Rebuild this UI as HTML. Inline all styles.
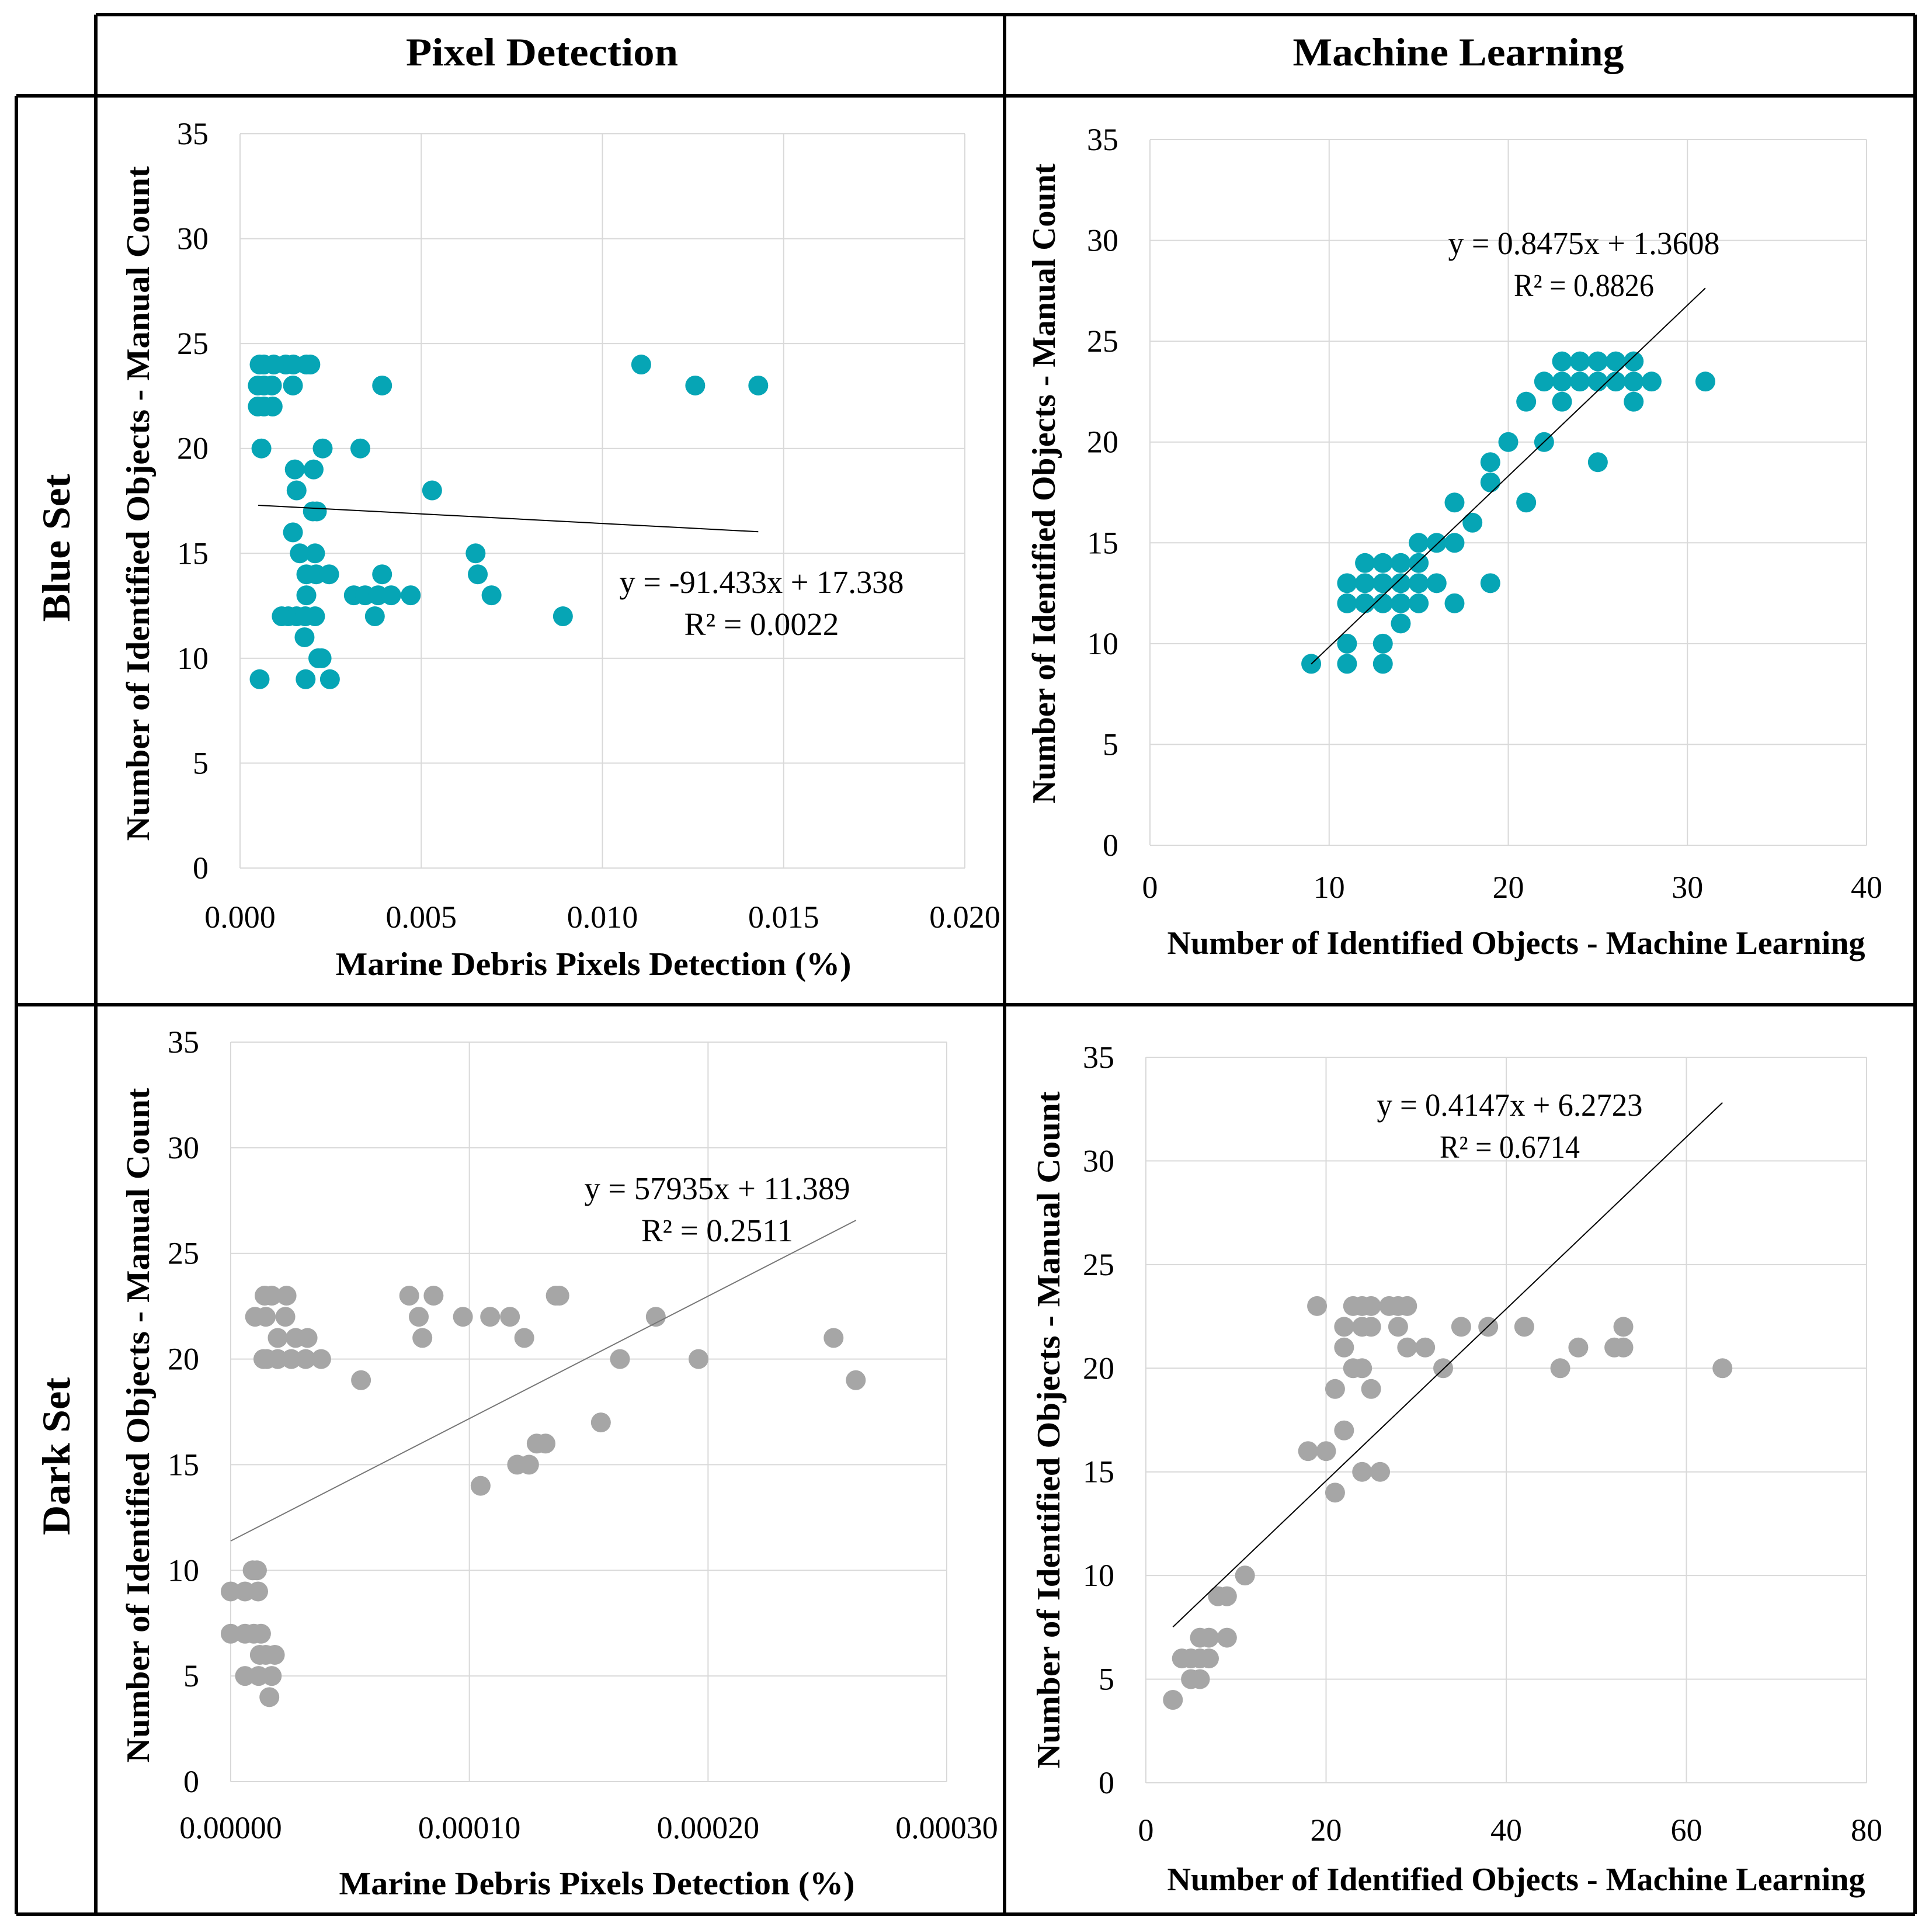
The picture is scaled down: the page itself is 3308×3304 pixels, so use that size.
<!DOCTYPE html>
<html><head><meta charset="utf-8"><style>
html,body{margin:0;padding:0;background:#fff;}
svg{display:block;}
text{font-family:"Liberation Serif",serif;fill:#000;}
.tick{font-size:54px;}
.title{font-size:56px;font-weight:bold;}
.eq{font-size:55px;}
.hdr{font-size:68px;font-weight:bold;}
</style></head><body>
<svg id="chart" width="3308" height="3304" viewBox="0 0 3308 3304" xmlns="http://www.w3.org/2000/svg">
<g stroke="#000" stroke-width="6" fill="none">
<line x1="164" y1="25" x2="3279" y2="25"/>
<line x1="28" y1="164" x2="3279" y2="164"/>
<line x1="28" y1="1720" x2="3279" y2="1720"/>
<line x1="28" y1="3277" x2="3279" y2="3277"/>
<line x1="28" y1="164" x2="28" y2="3277"/>
<line x1="164" y1="25" x2="164" y2="3277"/>
<line x1="1720" y1="25" x2="1720" y2="3277"/>
<line x1="3279" y1="25" x2="3279" y2="3277"/>
</g>
<text class="hdr" x="928" y="112" text-anchor="middle" textLength="466" lengthAdjust="spacingAndGlyphs">Pixel Detection</text>
<text class="hdr" x="2497" y="112" text-anchor="middle" textLength="567" lengthAdjust="spacingAndGlyphs">Machine Learning</text>
<text class="hdr" transform="translate(119,938) rotate(-90)" text-anchor="middle" textLength="253" lengthAdjust="spacingAndGlyphs">Blue Set</text>
<text class="hdr" transform="translate(119,2493) rotate(-90)" text-anchor="middle" textLength="270" lengthAdjust="spacingAndGlyphs">Dark Set</text>
</svg>
<script>
// Panel 1: Blue set, pixel detection
const p1X = [0.00054,0.00066,0.00093,0.00126,0.00147,0.00183,0.00194,0.01107,
 0.00049,0.00066,0.00088,0.00146,0.00392,0.01256,0.01430,
 0.00049,0.00066,0.00090,
 0.00059,0.00228,0.00332,
 0.00151,0.00203,
 0.00156,0.00530,
 0.00201,0.00212,
 0.00146,
 0.00165,0.00207,0.00650,
 0.00183,0.00210,0.00246,0.00392,0.00656,
 0.00183,0.00314,0.00345,0.00381,0.00417,0.00471,0.00694,
 0.00115,0.00133,0.00156,0.00180,0.00207,0.00372,0.00891,
 0.00178,
 0.00216,0.00225,
 0.00054,0.00181,0.00248];
const p1Y = [24,24,24,24,24,24,24,24,
 23,23,23,23,23,23,23,
 22,22,22,
 20,20,20,
 19,19,
 18,18,
 17,17,
 16,
 15,15,15,
 14,14,14,14,14,
 13,13,13,13,13,13,13,
 12,12,12,12,12,12,12,
 11,
 10,10,
 9,9,9];
// Panel 2: Blue set, machine learning
const p2X = [23,24,25,26,27, 22,23,24,25,26,27,28,31, 21,23,27, 20,22, 19,25, 19, 17,21, 18, 15,16,17,
 12,13,14,15, 11,12,13,14,15,16,19, 11,12,13,14,15,17, 14, 11,13, 9,11,13];
const p2Y = [24,24,24,24,24, 23,23,23,23,23,23,23,23, 22,22,22, 20,20, 19,19, 18, 17,17, 16, 15,15,15,
 14,14,14,14, 13,13,13,13,13,13,13, 12,12,12,12,12,12, 11, 10,10, 9,9,9];
// Panel 3: Dark set, pixel detection
const p3X = [1.42e-5,1.72e-5,2.34e-5,7.48e-5,8.5e-5,1.362e-4,1.377e-4,
 1.02e-5,1.47e-5,2.29e-5,7.88e-5,9.73e-5,1.087e-4,1.17e-4,1.781e-4,
 1.97e-5,2.72e-5,3.22e-5,8.03e-5,1.23e-4,2.526e-4,
 1.37e-5,1.52e-5,1.97e-5,2.54e-5,3.14e-5,3.79e-5,1.631e-4,1.96e-4,
 5.46e-5,2.619e-4, 1.551e-4, 1.282e-4,1.319e-4, 1.2e-4,1.25e-4, 1.047e-4,
 9.2e-6,1.1e-5, 0,6e-6,1.15e-5, 0,6e-6,9.7e-6,1.27e-5,
 1.22e-5,1.47e-5,1.85e-5, 6e-6,1.17e-5,1.72e-5, 1.62e-5];
const p3Y = [23,23,23,23,23,23,23,
 22,22,22,22,22,22,22,22,
 21,21,21,21,21,21,
 20,20,20,20,20,20,20,20,
 19,19, 17, 16,16, 15,15, 14,
 10,10, 9,9,9, 7,7,7,7,
 6,6,6, 5,5,5, 4];
// Panel 4: Dark set, machine learning
const p4X = [19,23,24,25,27,28,29, 22,24,25,28,35,38,42,53, 22,29,31,48,52,53, 23,24,33,46,64,
 21,25, 22, 18,20, 24,26, 21, 11, 8,9, 6,7,9, 4,5,6,7, 5,6, 3];
const p4Y = [23,23,23,23,23,23,23, 22,22,22,22,22,22,22,22, 21,21,21,21,21,21, 20,20,20,20,20,
 19,19, 17, 16,16, 15,15, 14, 10, 9,9, 7,7,7, 6,6,6,6, 5,5, 4];
const yTicks = [0,5,10,15,20,25,30,35];
const x1Ticks = ["0.000","0.005","0.010","0.015","0.020"];
const x2Ticks = ["0","10","20","30","40"];
const x3Ticks = ["0.00000","0.00010","0.00020","0.00030"];
const x4Ticks = ["0","20","40","60","80"];
const trend1 = [0.0005, 0.0143];
const trend2 = [9, 31];
const trend3 = [0, 0.000262];
const trend4 = [3, 64];
const coef1 = [-91.433, 17.338];
const coef2 = [0.8475, 1.3608];
const coef3 = [57935, 11.389];
const coef4 = [0.4147, 6.2723];

const NS = "http://www.w3.org/2000/svg";
const svg = document.getElementById('chart');
function mk(tag, attrs, parent){ const e=document.createElementNS(NS,tag); for(const k in attrs) e.setAttribute(k,attrs[k]); (parent||svg).appendChild(e); return e; }

function panel(o){
  const g = mk('g',{});
  
  
  const xmax = parseFloat(o.xt[o.xt.length-1]);
  const sx = v => o.L + (v/xmax)*(o.R-o.L);
  const sy = v => o.B - (v/35)*(o.B-o.T);
  yTicks.forEach(t=>{
    const l = mk('line',{x1:o.L,x2:o.R,y1:sy(t),y2:sy(t),stroke:'#d9d9d9','stroke-width':2},g);
    
    
    const tx = mk('text',{x:o.L-54,y:sy(t)+18,'text-anchor':'end',class:'tick'},g);
    tx.textContent = t;
    
    
  });
  o.xt.forEach(t=>{
    const v=parseFloat(t);
    const l = mk('line',{x1:sx(v),x2:sx(v),y1:o.T,y2:o.B,stroke:'#d9d9d9','stroke-width':2},g);
    
    
    const tx = mk('text',{x:sx(v),y:o.B+o.xoff+18,'text-anchor':'middle',class:'tick'},g);
    tx.textContent = t;
    
    
  });
  o.xs.forEach((xv,i)=>{
    const c = mk('circle',{cx:sx(xv),cy:sy(o.ys[i]),r:17,fill:o.color},g);
    
    
  });
  const tl = mk('line',{x1:sx(o.tr[0]),y1:sy(o.cf[0]*o.tr[0]+o.cf[1]),x2:sx(o.tr[1]),y2:sy(o.cf[0]*o.tr[1]+o.cf[1]),stroke:o.tc,'stroke-width':2},g);
  
  
  const e1 = mk('text',{x:o.ex,y:o.ey+18,'text-anchor':'middle',class:'eq',textLength:o.el1,lengthAdjust:'spacingAndGlyphs'},g);
  e1.textContent = o.eq1;
  
  
  const e2 = mk('text',{x:o.ex,y:o.ey+90,'text-anchor':'middle',class:'eq',textLength:o.el2,lengthAdjust:'spacingAndGlyphs'},g);
  e2.textContent = o.eq2;
  
  
  const xt = mk('text',{x:o.xtx,y:o.xty+19,'text-anchor':'middle',class:'title',textLength:o.xtl,lengthAdjust:'spacingAndGlyphs'},g);
  xt.textContent = o.xtitle;
  
  
  const yt = mk('text',{transform:`translate(${o.ytx+19},${o.yty}) rotate(-90)`,'text-anchor':'middle',class:'title',textLength:o.ytl,lengthAdjust:'spacingAndGlyphs'},g);
  yt.textContent = 'Number of Identified Objects - Manual Count';
  
  
}
const teal='#06a5b5', gray='#a6a6a6';
panel({name:'blue-pixel-chart',L:411,R:1652,T:229,B:1486,xt:x1Ticks,xoff:84,xs:p1X,ys:p1Y,color:teal,tr:trend1,cf:coef1,tc:'#000',
  ex:1304,ey:997,el1:487,el2:265,eq1:'y = -91.433x + 17.338',eq2:'R² = 0.0022',xtx:1016,xty:1650,xtl:883,xtitle:'Marine Debris Pixels Detection (%)',ytx:236,yty:862,ytl:1155});
panel({name:'blue-ml-chart',L:1969,R:3196,T:239,B:1447,xt:x2Ticks,xoff:72,xs:p2X,ys:p2Y,color:teal,tr:trend2,cf:coef2,tc:'#000',
  ex:2712,ey:417,el1:465,el2:240,eq1:'y = 0.8475x + 1.3608',eq2:'R² = 0.8826',xtx:2596,xty:1614,xtl:1195,xtitle:'Number of Identified Objects  - Machine Learning',ytx:1787,yty:828,ytl:1096});
panel({name:'dark-pixel-chart',L:395,R:1621,T:1784,B:3050,xt:x3Ticks,xoff:79,xs:p3X,ys:p3Y,color:gray,tr:trend3,cf:coef3,tc:'#777',
  ex:1228,ey:2035,el1:455,el2:260,eq1:'y = 57935x + 11.389',eq2:'R² = 0.2511',xtx:1022,xty:3224,xtl:883,xtitle:'Marine Debris Pixels Detection (%)',ytx:236,yty:2440,ytl:1155});
panel({name:'dark-ml-chart',L:1962,R:3196,T:1810,B:3052,xt:x4Ticks,xoff:81,xs:p4X,ys:p4Y,color:gray,tr:trend4,cf:coef4,tc:'#000',
  ex:2585,ey:1892,el1:455,el2:240,eq1:'y = 0.4147x + 6.2723',eq2:'R² = 0.6714',xtx:2596,xty:3217,xtl:1195,xtitle:'Number of Identified Objects  - Machine Learning',ytx:1795,yty:2448,ytl:1159});
</script>
</body></html>
